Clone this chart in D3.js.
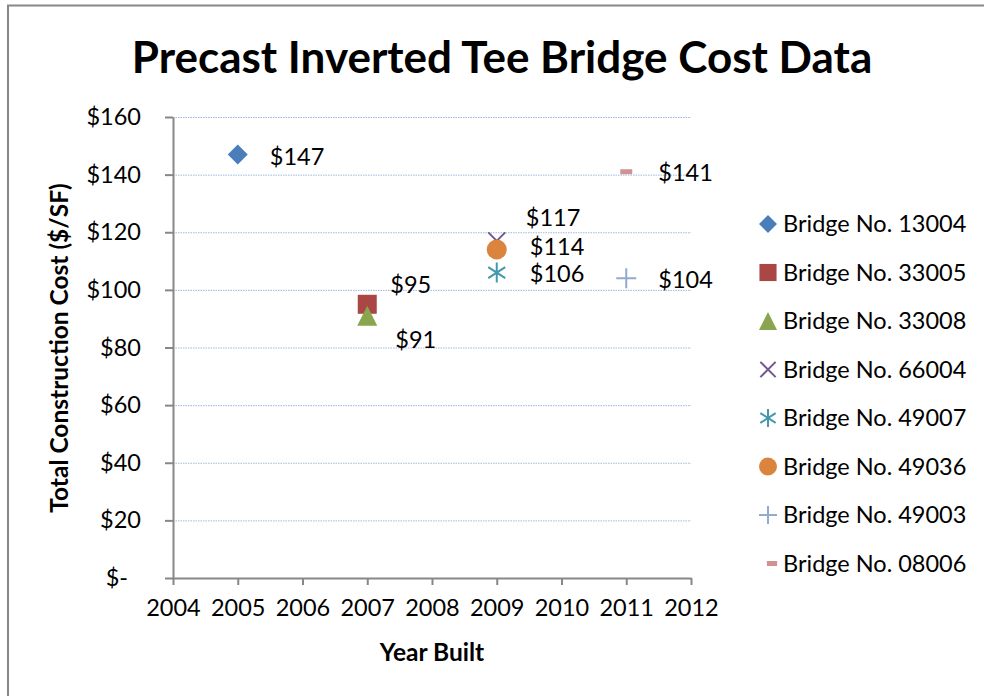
<!DOCTYPE html>
<html>
<head>
<meta charset="utf-8">
<script src="https://cdn.jsdelivr.net/npm/d3@7"></script>
<style>
  body { margin: 0; background: #fff; }
  svg { display: block; font-family: Lato, "Open Sans", sans-serif; }
</style>
</head>
<body>
<svg id="chart" width="984" height="696"></svg>
<script>
'use strict'

// ---------------------------------------------------------------- DATA
let bridges = ['Bridge No. 13004', 'Bridge No. 33005', 'Bridge No. 33008', 'Bridge No. 66004',
               'Bridge No. 49007', 'Bridge No. 49036', 'Bridge No. 49003', 'Bridge No. 08006']
let years = [2005, 2007, 2007, 2009, 2009, 2009, 2011, 2011]
let costs = [147, 95, 91, 117, 106, 114, 104, 141]
let yTicks = [0, 20, 40, 60, 80, 100, 120, 140, 160]
let xTicks = [2004, 2005, 2006, 2007, 2008, 2009, 2010, 2011, 2012]

// marker look per series
let shapes = ['diamond', 'square', 'triangle', 'x', 'star', 'circle', 'plus', 'dash']
let colors = ['#4A7EBB', '#AA4643', '#89A54E', '#71588F', '#4198AF', '#DB843D', '#93A9CF', '#D19392']
// hand-placed label nudges (dx, dy) like in the original sheet
let labelNudge = [[32, 2], [23, -20], [28, 24], [29, -23], [33, 1], [33, -3], [32, 1], [32, 1]]

// --------------------------------------------------------- POSITIONING
let svg = d3.select('#chart')
let plotLeft = 173, plotRight = 691, plotTop = 117, plotBottom = 578

// chart frame (only top and left edges fall inside the window)
svg.append('rect')
  .attr('x', 8).attr('y', 5.5).attr('width', 1000).attr('height', 720)
  .attr('fill', '#fff').attr('stroke', '#878787').attr('stroke-width', 2)

let x = d3.scaleLinear().domain([2004, 2012]).range([plotLeft, plotRight])
let y = d3.scaleLinear().domain([0, 160]).range([plotBottom, plotTop])

// ---------------------------------------------------------- GRID/AXES
svg.append('g').selectAll('line')
  .data(yTicks.filter(d => d > 0))
  .join('line')
    .attr('x1', plotLeft).attr('x2', plotRight)
    .attr('y1', d => y(d) + 0.5).attr('y2', d => y(d) + 0.5)
    .attr('stroke', '#9DB9E0').attr('stroke-width', 1)
    .attr('stroke-dasharray', '1.5,1')

let yAxis = svg.append('g')
  .attr('transform', 'translate(' + plotLeft + ',0)')
  .call(d3.axisLeft(y).tickValues(yTicks).tickSize(8).tickSizeOuter(0).tickPadding(24)
    .tickFormat(d => d ? '$' + d : '$-'))
yAxis.selectAll('text').filter(d => d === 0).attr('dx', -13)

let xAxis = svg.append('g')
  .attr('transform', 'translate(0,' + plotBottom + ')')
  .call(d3.axisBottom(x).tickValues(xTicks).tickSize(7).tickSizeOuter(0).tickPadding(14)
    .tickFormat(d3.format('d')))

svg.selectAll('.domain').attr('stroke', '#878787').attr('stroke-width', 2)
svg.selectAll('.tick line').attr('stroke', '#878787').attr('stroke-width', 2)
svg.selectAll('.tick text').attr('font-size', 23.5).attr('fill', '#000')
  .attr('font-family', 'Lato, sans-serif')

// ------------------------------------------------------------- MARKERS
function drawMarker(g, shape, color, s) {
  let h = s / 2
  if (shape == 'diamond')
    g.append('path').attr('d', `M0,${-h}L${h},0L0,${h}L${-h},0Z`).attr('fill', color)
  else if (shape == 'square')
    g.append('rect').attr('x', -h * 0.95).attr('y', -h * 0.95).attr('width', s * 0.95).attr('height', s * 0.95).attr('fill', color)
  else if (shape == 'triangle')
    g.append('path').attr('d', `M0,${-h}L${h},${h}L${-h},${h}Z`).attr('fill', color)
  else if (shape == 'circle')
    g.append('circle').attr('r', h).attr('fill', color)
  else if (shape == 'x')
    g.append('path').attr('d', `M${-h * .85},${-h * .85}L${h * .85},${h * .85}M${-h * .85},${h * .85}L${h * .85},${-h * .85}`)
      .attr('stroke', color).attr('stroke-width', 2)
  else if (shape == 'star')
    g.append('path').attr('d', `M0,${-h}L0,${h}M${-h * .85},${-h * .55}L${h * .85},${h * .55}M${-h * .85},${h * .55}L${h * .85},${-h * .55}`)
      .attr('stroke', color).attr('stroke-width', 2)
  else if (shape == 'plus')
    g.append('path').attr('d', `M0,${-h}L0,${h}M${-h},0L${h},0`)
      .attr('stroke', color).attr('stroke-width', 2)
  else if (shape == 'dash')
    g.append('rect').attr('x', -s * 0.3).attr('y', -2.5).attr('width', s * 0.6).attr('height', 5).attr('fill', color)
}

let points = svg.append('g')
costs.forEach((c, i) => {
  let g = points.append('g').attr('transform', 'translate(' + x(years[i]) + ',' + y(c) + ')')
  drawMarker(g, shapes[i], colors[i], 20)
})

// --------------------------------------------------------- DATA LABELS
svg.append('g').selectAll('text')
  .data(costs)
  .join('text')
    .attr('x', (d, i) => x(years[i]) + labelNudge[i][0])
    .attr('y', (d, i) => y(d) + labelNudge[i][1])
    .attr('dy', '0.35em')
    .attr('font-size', 23.5)
    .text(d => '$' + d)

// -------------------------------------------------------------- LEGEND
let legend = svg.append('g')
bridges.forEach((b, i) => {
  let ly = 224 + i * 48.5
  let g = legend.append('g').attr('transform', 'translate(' + (shapes[i] == 'dash' ? 772 : 768) + ',' + ly + ')')
  drawMarker(g, shapes[i], colors[i], shapes[i] == 'dash' ? 17 : 18)
  legend.append('text')
    .attr('x', 783).attr('y', ly).attr('dy', '0.35em')
    .attr('font-size', 23.5)
    .text(b)
})

// -------------------------------------------------------------- TITLES
svg.append('text')
  .attr('x', 502).attr('y', 73)
  .attr('text-anchor', 'middle')
  .attr('font-size', 44).attr('font-weight', 'bold')
  .text('Precast Inverted Tee Bridge Cost Data')

svg.append('text')
  .attr('x', 432).attr('y', 661)
  .attr('text-anchor', 'middle')
  .attr('font-size', 24.5).attr('font-weight', 'bold')
  .text('Year Built')

svg.append('text')
  .attr('transform', 'translate(68,348) rotate(-90)')
  .attr('text-anchor', 'middle')
  .attr('font-size', 24.5).attr('font-weight', 'bold')
  .text('Total Construction Cost ($/SF)')
</script>
</body>
</html>
